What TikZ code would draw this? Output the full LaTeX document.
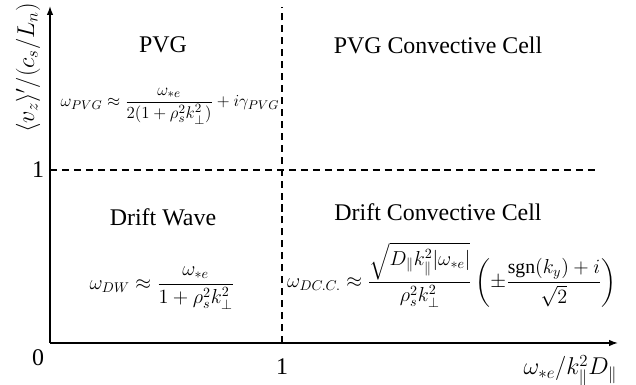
\documentclass[tikz,border=0pt]{standalone}
\usepackage{amsmath}
\usepackage{fontspec}
\setmainfont{Liberation Serif}
\usetikzlibrary{arrows.meta}
\definecolor{ink}{HTML}{000000}
\tikzset{
  every node/.style = {text=ink, inner sep=1pt},
  pdaxis/.style  = {draw=ink, line width=1pt, -{Latex[length=2.2mm,width=1.6mm]}},
  pddash/.style  = {draw=ink, line width=0.9pt, dash pattern=on 5pt off 3.5pt},
  pdhead/.style  = {font=\fontsize{17}{20}\selectfont},
  pdtick/.style  = {font=\fontsize{17}{20}\selectfont},
  pdform/.style  = {font=\fontsize{14}{17}\selectfont},
  pdformsm/.style= {font=\fontsize{12.8}{15}\selectfont},
  pdlab/.style   = {font=\fontsize{17}{20}\selectfont},
}

\begin{document}
\begin{tikzpicture}[x=0.025cm, y=0.025cm]
\useasboundingbox (0,0) rectangle (636,385);

% axes and the two borders
\coordinate (O)      at (50,42);
\coordinate (xtip)   at (618,42);
\coordinate (ytip)   at (50,379);
\coordinate (vtop)   at (282,378);
\coordinate (vbot)   at (282,42);
\coordinate (hleft)  at (50,215);
\coordinate (hright) at (597,215);

\draw[pddash] (vbot) -- (vtop);
\draw[pddash] (hleft) -- (hright);
\draw[pdaxis] (O) -- (xtip);
\draw[pdaxis] (O) -- (ytip);

\node[pdtick] (zero) at (38,27)  {0};
\node[pdtick] (xone) at (282,18) {1};
\node[pdtick] (yone) at (38,215) {1};

\node[pdlab, rotate=90] (ylab) at (28,317) {$\langle v_z\rangle'/(c_s/L_n)$};
\node[pdlab, anchor=east] (xlab) at (619,14) {$\omega_{*e}/k_\parallel^2 D_\parallel$};

% regions
\node[pdhead] (pvg)  at (163,340) {PVG};
\node[pdhead] (pvgc) at (438,340) {PVG Convective Cell};
\node[pdhead] (dw)   at (163,168) {Drift Wave};
\node[pdhead] (dcc)  at (438,173) {Drift Convective Cell};

\node[pdformsm] (pvgeq) at (170,279)
  {$\displaystyle \omega_{PVG} \approx \frac{\omega_{*e}}{2(1+\rho_s^2k_\perp^2)} + i\gamma_{PVG}$};
\node[pdform] (dweq) at (162,97)
  {$\displaystyle \omega_{DW} \approx \frac{\omega_{*e}}{1+\rho_s^2k_\perp^2}$};
\node[pdform] (dcceq) at (452,110)
  {$\displaystyle \omega_{DC.C.} \approx \frac{\sqrt{D_\parallel k_\parallel^2|\omega_{*e}|}}{\rho_s^2k_\perp^2}
   \left(\pm\frac{\mathrm{sgn}(k_y)+i}{\sqrt{2}}\right)$};
\end{tikzpicture}
\end{document}
